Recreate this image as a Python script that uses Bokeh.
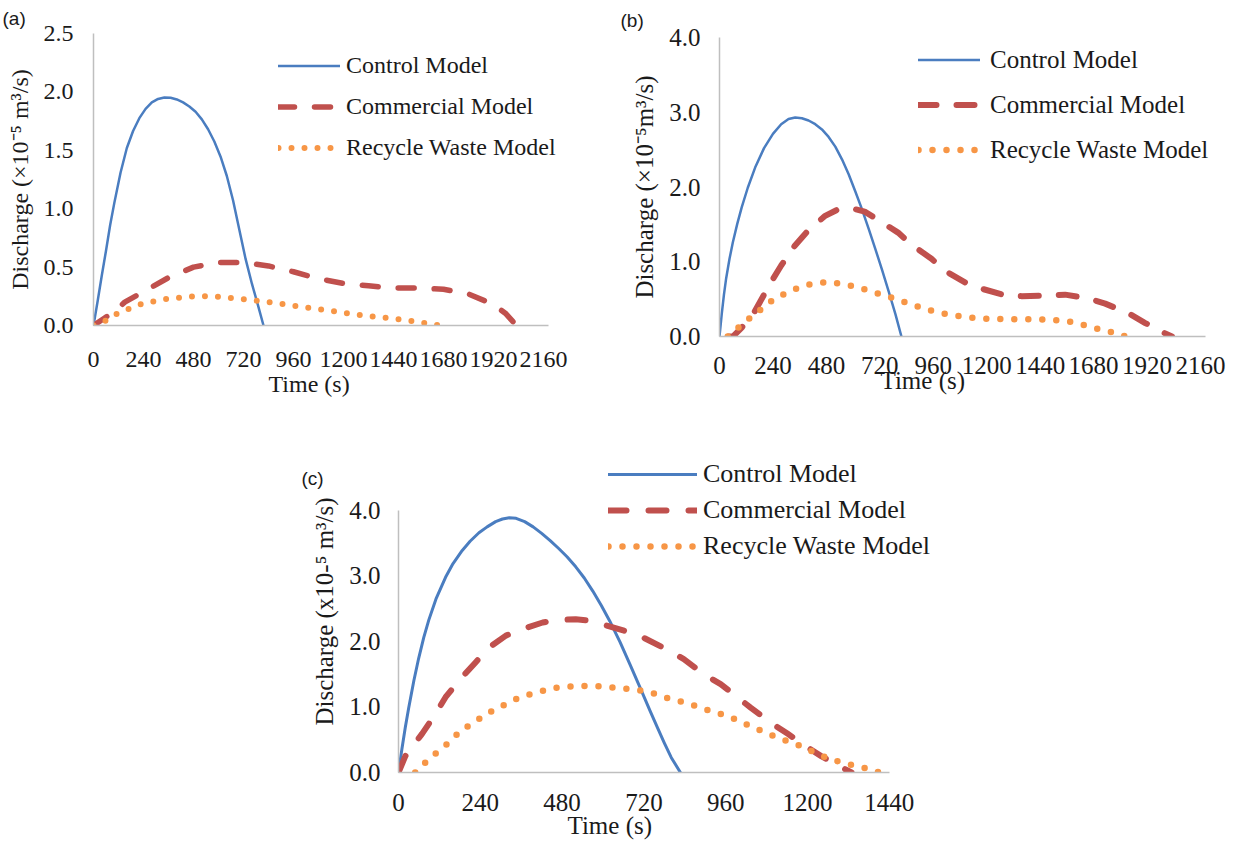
from bokeh.plotting import figure
from bokeh.models import Range1d, FixedTicker, Legend, LegendItem, Spacer, NumeralTickFormatter, Title
from bokeh.layouts import row, column
from bokeh.embed import file_html
from bokeh.resources import INLINE

# ---------------- data ----------------
# Panel (a)
a_control_t = [0, 20, 40, 60, 80, 100, 130, 160, 190, 220, 250, 280, 310, 340, 370, 400, 430, 460, 490, 520, 550, 580, 610, 640, 670, 700, 730, 760, 790, 816]
a_control_q = [0, 0.21, 0.43, 0.64, 0.86, 1.05, 1.31, 1.52, 1.665, 1.775, 1.855, 1.91, 1.94, 1.952, 1.95, 1.935, 1.91, 1.875, 1.83, 1.765, 1.68, 1.575, 1.445, 1.28, 1.07, 0.82, 0.57, 0.36, 0.17, 0]
a_comm_t = [0, 50, 100, 150, 240, 360, 480, 600, 720, 840, 960, 1080, 1200, 1320, 1440, 1560, 1680, 1800, 1920, 1980, 2030]
a_comm_q = [0, 0.06, 0.12, 0.20, 0.29, 0.41, 0.50, 0.54, 0.54, 0.51, 0.46, 0.40, 0.36, 0.34, 0.32, 0.32, 0.31, 0.27, 0.18, 0.10, 0]
a_recy_t = [0, 40, 100, 180, 240, 360, 480, 540, 600, 720, 840, 960, 1080, 1200, 1320, 1440, 1560, 1660]
a_recy_q = [0, 0.02, 0.09, 0.15, 0.19, 0.23, 0.25, 0.25, 0.245, 0.225, 0.20, 0.17, 0.14, 0.11, 0.08, 0.06, 0.03, 0]

# Panel (b)
b_control_t = [0, 10, 20, 30, 45, 60, 80, 100, 127, 160, 200, 240, 277, 310, 340, 370, 400, 430, 460, 490, 520, 550, 580, 610, 640, 670, 700, 730, 760, 790, 817]
b_control_q = [0, 0.30, 0.56, 0.78, 1.04, 1.26, 1.51, 1.73, 1.99, 2.26, 2.52, 2.71, 2.84, 2.91, 2.93, 2.92, 2.89, 2.84, 2.77, 2.67, 2.54, 2.37, 2.17, 1.94, 1.70, 1.44, 1.17, 0.89, 0.60, 0.30, 0]
b_comm_t = [40, 60, 100, 157, 232, 277, 337, 390, 472, 532, 600, 652, 712, 802, 862, 952, 1012, 1117, 1177, 1282, 1357, 1477, 1552, 1657, 1732, 1837, 1912, 2002, 2032]
b_comm_q = [0, 0, 0.12, 0.33, 0.73, 0.95, 1.21, 1.39, 1.61, 1.70, 1.71, 1.67, 1.56, 1.39, 1.23, 1.04, 0.88, 0.70, 0.64, 0.55, 0.54, 0.55, 0.56, 0.51, 0.44, 0.31, 0.18, 0.04, 0]
b_recy_t = [37, 97, 142, 202, 247, 307, 367, 427, 495, 555, 622, 682, 742, 795, 862, 922, 982, 1042, 1102, 1177, 1297, 1432, 1492, 1559, 1627, 1687, 1747, 1807, 1822]
b_recy_q = [0, 0.15, 0.26, 0.40, 0.51, 0.59, 0.67, 0.71, 0.73, 0.70, 0.66, 0.60, 0.55, 0.50, 0.43, 0.37, 0.32, 0.29, 0.26, 0.24, 0.23, 0.23, 0.22, 0.21, 0.16, 0.11, 0.07, 0.02, 0]

# Panel (c)
c_control_t = [0, 10, 20, 30, 45, 59, 74, 89, 110, 138, 160, 187, 210, 236, 260, 285, 305, 325, 345, 370, 395, 420, 445, 470, 495, 520, 545, 570, 595, 620, 650, 679, 710, 738, 760, 780, 800, 827]
c_control_q = [0, 0.36, 0.69, 0.99, 1.40, 1.74, 2.06, 2.33, 2.65, 2.98, 3.19, 3.39, 3.53, 3.66, 3.75, 3.83, 3.87, 3.89, 3.88, 3.83, 3.75, 3.65, 3.54, 3.42, 3.29, 3.14, 2.97, 2.77, 2.55, 2.31, 1.99, 1.65, 1.28, 0.94, 0.68, 0.45, 0.23, 0]
c_comm_t = [0, 20, 69, 108, 138, 177, 226, 266, 315, 364, 423, 472, 520, 561, 600, 679, 718, 787, 837, 896, 945, 994, 1033, 1092, 1142, 1201, 1240, 1299, 1329]
c_comm_q = [0, 0.25, 0.59, 0.89, 1.15, 1.40, 1.68, 1.91, 2.09, 2.19, 2.29, 2.33, 2.34, 2.32, 2.26, 2.14, 2.06, 1.88, 1.73, 1.50, 1.35, 1.15, 0.99, 0.76, 0.59, 0.38, 0.25, 0.08, 0]
c_recy_t = [49, 84, 118, 153, 182, 221, 256, 295, 330, 369, 413, 453, 497, 541, 581, 625, 669, 714, 753, 792, 832, 876, 915, 960, 999, 1038, 1078, 1112, 1152, 1191, 1230, 1270, 1309, 1358, 1398, 1410]
c_recy_q = [0, 0.18, 0.33, 0.48, 0.64, 0.76, 0.89, 0.99, 1.09, 1.17, 1.23, 1.29, 1.31, 1.32, 1.32, 1.30, 1.28, 1.25, 1.20, 1.13, 1.08, 1.01, 0.94, 0.87, 0.79, 0.69, 0.61, 0.53, 0.46, 0.38, 0.28, 0.20, 0.14, 0.08, 0.03, 0]

series_names = ["Control Model", "Commercial Model", "Recycle Waste Model"]
x_title = "Time (s)"
x_ticks_long = [0, 240, 480, 720, 960, 1200, 1440, 1680, 1920, 2160]
x_ticks_short = [0, 240, 480, 720, 960, 1200, 1440]
y_ticks_a = [0.0, 0.5, 1.0, 1.5, 2.0, 2.5]
y_ticks_bc = [0.0, 1.0, 2.0, 3.0, 4.0]

# ---------------- styling ----------------
SERIF = "Liberation Serif"
SANS = "Liberation Sans"
BLUE = "#4A7DC0"
RED = "#C0504D"
ORANGE = "#F79646"
AXIS_GRAY = "#BFBFBF"


def make_panel(width, height, ml, mr, mt, mb, xr, yr, xbounds, ybounds,
               xticks, yticks, ylabel, fpx, xt_std, yl_std, yt_std,
               xtitle_offset, xtitle_standoff,
               series, widths, dashes, leg_loc, leg_pitch, leg_glyph_w, leg_std, leg_fpx,
               tag, tag_offset, tag_standoff):
    p = figure(width=width, height=height, output_backend="svg", toolbar_location=None,
               x_range=Range1d(*xr), y_range=Range1d(*yr),
               min_border_left=ml, min_border_right=mr, min_border_top=mt, min_border_bottom=mb)
    p.outline_line_color = None
    p.background_fill_color = "white"
    p.border_fill_color = "white"
    p.xgrid.visible = False
    p.ygrid.visible = False

    p.xaxis.ticker = FixedTicker(ticks=xticks)
    p.yaxis.ticker = FixedTicker(ticks=yticks)
    p.yaxis.formatter = NumeralTickFormatter(format="0.0")
    p.xaxis.formatter = NumeralTickFormatter(format="0")
    p.yaxis.axis_label = ylabel
    p.xaxis.bounds = xbounds
    p.yaxis.bounds = ybounds
    for ax in (p.xaxis, p.yaxis):
        ax.axis_line_color = AXIS_GRAY
        ax.axis_line_width = 1.5
        ax.major_tick_line_color = None
        ax.minor_tick_line_color = None
        ax.major_tick_out = 0
        ax.major_tick_in = 0
        ax.major_label_text_font = SERIF
        ax.major_label_text_font_size = fpx
        ax.major_label_text_color = "#1a1a1a"
        ax.axis_label_text_font = SERIF
        ax.axis_label_text_font_size = fpx
        ax.axis_label_text_font_style = "normal"
        ax.axis_label_text_color = "#1a1a1a"
    p.xaxis.major_label_standoff = xt_std
    p.yaxis.major_label_standoff = yt_std
    p.yaxis.axis_label_standoff = yl_std

    # x-axis title, placed off-centre as in the reference
    p.add_layout(Title(text=x_title, align="left", offset=xtitle_offset, standoff=xtitle_standoff,
                       vertical_align="top", text_font=SERIF, text_font_size=fpx,
                       text_font_style="normal", text_color="#1a1a1a"), "below")

    colors = [BLUE, RED, ORANGE]
    renderers = []
    for (t, q), c, w, d in zip(series, colors, widths, dashes):
        r = p.line(t, q, line_color=c, line_width=w, line_dash=d, line_cap="round", line_join="round")
        renderers.append(r)

    items = [LegendItem(label=n, renderers=[r]) for n, r in zip(series_names, renderers)]
    leg = Legend(items=items, location=leg_loc, orientation="vertical",
                 glyph_width=leg_glyph_w, glyph_height=leg_pitch, label_height=leg_pitch,
                 spacing=0, padding=0, margin=0, label_standoff=leg_std,
                 label_text_font=SERIF, label_text_font_size=leg_fpx, label_text_color="#1a1a1a",
                 background_fill_alpha=0, border_line_alpha=0)
    p.add_layout(leg)

    p.title.text = tag
    p.title.align = "left"
    p.title.offset = tag_offset
    p.title.standoff = tag_standoff
    p.title.vertical_align = "bottom"
    p.title.text_font = SANS
    p.title.text_font_size = "19px"
    p.title.text_font_style = "normal"
    p.title.text_color = "#1a1a1a"
    return p


# Panel (a): frame 93..600 x 33..325
pa = make_panel(600, 406, 93, 0, 33, 81,
                xr=(0, 2433.6), yr=(0, 2.5), xbounds=(0, 2184), ybounds=(0, 2.5),
                xticks=x_ticks_long, yticks=y_ticks_a,
                ylabel="Discharge (×10\u207b\u2075 m³/s)", fpx="24px",
                xt_std=26, yl_std=8, yt_std=20,
                xtitle_offset=175, xtitle_standoff=2,
                series=[(a_control_t, a_control_q), (a_comm_t, a_comm_q), (a_recy_t, a_recy_q)],
                widths=[2.5, 5.5, 6], dashes=["solid", "16 20", "0 13"],
                leg_loc=(185, 157), leg_pitch=41, leg_glyph_w=62, leg_std=6, leg_fpx="24px",
                tag="(a)", tag_offset=-91, tag_standoff=10)

# Panel (b): frame 719..1236 x 33..336
pb = make_panel(636, 410, 119, 0, 33, 74,
                xr=(0, 2321.7), yr=(0, 4.0), xbounds=(0, 2182), ybounds=(0, 4.0),
                xticks=x_ticks_long, yticks=y_ticks_bc,
                ylabel="Discharge (×10\u207b\u2075m³/s)", fpx="25px",
                xt_std=20, yl_std=8, yt_std=19,
                xtitle_offset=161, xtitle_standoff=-20,
                series=[(b_control_t, b_control_q), (b_comm_t, b_comm_q), (b_recy_t, b_recy_q)],
                widths=[2.5, 6, 6.5], dashes=["solid", "18 20", "0 14"],
                leg_loc=(199, 164), leg_pitch=45, leg_glyph_w=62, leg_std=10, leg_fpx="25px",
                tag="(b)", tag_offset=-99, tag_standoff=14)

# Panel (c): frame 398..940 x 450..772
pc = make_panel(650, 433, 108, 0, 40, 71,
                xr=(0, 1590), yr=(0, 4.916), xbounds=(0, 1440), ybounds=(0, 4.0),
                xticks=x_ticks_short, yticks=y_ticks_bc,
                ylabel="Discharge (x10-\u2075 m³/s)", fpx="25px",
                xt_std=21, yl_std=8, yt_std=18,
                xtitle_offset=169, xtitle_standoff=-4,
                series=[(c_control_t, c_control_q), (c_comm_t, c_comm_q), (c_recy_t, c_recy_q)],
                widths=[3, 6, 6.5], dashes=["solid", "18 22", "0 14"],
                leg_loc=(210, 208), leg_pitch=36, leg_glyph_w=89, leg_std=6, leg_fpx="26px",
                tag="(c)", tag_offset=-97, tag_standoff=-76)

layout = column(row(column(pa, Spacer(width=600, height=4)), pb),
                row(Spacer(width=290, height=433), pc))

open("out.html", "w").write(file_html(layout, INLINE))
